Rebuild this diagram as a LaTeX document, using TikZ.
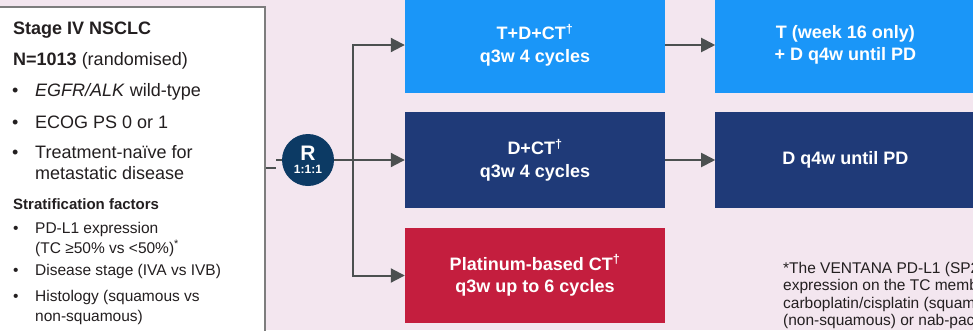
\documentclass[tikz,border=0pt]{standalone}
\usepackage{fontspec}
\setmainfont{Liberation Sans}
\usetikzlibrary{arrows.meta,positioning}

\definecolor{bgpink}{RGB}{243,230,239}
\definecolor{armblue}{RGB}{26,150,248}
\definecolor{armnavy}{RGB}{31,58,120}
\definecolor{armred}{RGB}{196,30,62}
\definecolor{randnavy}{RGB}{12,58,100}
\definecolor{linegray}{RGB}{75,80,80}
\definecolor{boxgray}{RGB}{125,125,125}
\definecolor{txtdark}{RGB}{35,31,32}

\begin{document}
\begin{tikzpicture}[
            x = 1pt, y = -1pt, % pixel grid, y pointing down
            > = {Triangle[length=14pt,width=14pt]}, % arrow head style
            conn/.style = {draw=linegray, line width=2pt},
            arm/.style = {rectangle, minimum width=260pt, minimum height=96pt,
                          inner sep=0pt, text=white, align=center,
                          font=\bfseries\fontsize{18}{22.5}\selectfont},
            txt/.style = {anchor=base west, inner sep=0pt, text=txtdark,
                          font=\fontsize{18}{21}\selectfont},
            sub/.style = {txt, font=\fontsize{15.5}{19}\selectfont}
        ]

	\useasboundingbox (0,0) rectangle (973,330);
	\clip (0,0) rectangle (973,330);
	\fill[bgpink] (0,0) rectangle (973,330);

	% population box
	\node[draw=boxgray, line width=2pt, fill=white, minimum width=268pt,
	      minimum height=334pt, inner sep=0pt] (popn) at (131,173.5) {};

	\node[txt, font=\bfseries\fontsize{18}{21}\selectfont] (stage) at (13,34.5) {Stage IV NSCLC};
	\node[txt] (ntot) at (13,65) {\textbf{N=1013} (randomised)};
	\node[txt] (d1) at (12,96) {•};
	\node[txt] (i1) at (35,96) {\textit{EGFR/ALK} wild-type};
	\node[txt] (d2) at (12,128) {•};
	\node[txt] (i2) at (35,128) {ECOG PS 0 or 1};
	\node[txt] (d3) at (12,158) {•};
	\node[txt] (i3) at (35,158) {Treatment-naïve for};
	\node[txt] (i3b) at (35,179) {metastatic disease};

	\node[txt, font=\bfseries\fontsize{15}{18}\selectfont] (strat) at (13,209.5) {Stratification factors};
	\node[sub] (e1) at (13,233) {•};
	\node[sub] (s1) at (35,233) {PD-L1 expression};
	\node[sub] (s1b) at (35,253) {(TC ≥50\% vs <50\%)\textsuperscript{*}};
	\node[sub] (e2) at (13,275) {•};
	\node[sub] (s2) at (35,275) {Disease stage (IVA vs IVB)};
	\node[sub] (e3) at (13,301) {•};
	\node[sub] (s3) at (35,301) {Histology (squamous vs};
	\node[sub] (s3b) at (35,321.5) {non-squamous)};

	% treatment arms
	\node[arm, fill=armblue] (tdct) at (535,45) {T+D+CT\textsuperscript{†}\\q3w 4 cycles};
	\node[arm, fill=armnavy] (dct) at (535,160) {D+CT\textsuperscript{†}\\q3w 4 cycles};
	\node[arm, fill=armred, minimum height=95pt] (ct) at (535,275.5) {Platinum-based CT\textsuperscript{†}\\q3w up to 6 cycles};

	\node[arm, fill=armblue] (tmaint) [right=50pt of tdct] {T (week 16 only)\\+ D q4w until PD};
	\node[arm, fill=armnavy] (dmaint) [right=50pt of dct] {D q4w until PD};

	% randomisation
	\node[circle, fill=randnavy, minimum size=52pt, inner sep=0pt, text=white,
	      align=center, font=\bfseries] (rand) at (308,160)
	      {{\fontsize{21}{21}\selectfont R}\\[1.5pt]{\fontsize{12}{12}\selectfont 1:1:1}};

	\coordinate (stub) at (276,168);
	\coordinate (lin) at (276,160);
	\coordinate (split) at (353,160);

	\draw[conn] (stub -| popn.east) -- (stub);
	\draw[conn] (lin) -- (rand);
	\draw[conn,->] (rand) -- (dct);
	\draw[conn,->] (split) |- (tdct);
	\draw[conn,->] (split) |- (ct);
	\draw[conn,->] (tdct) -- (tmaint);
	\draw[conn,->] (dct) -- (dmaint);

	% footnote
	\node[txt, font=\fontsize{15.5}{17.5}\selectfont, align=left] (fnote) at (783,325.5)
	      {*The VENTANA PD-L1 (SP263)\\expression on the TC membrane\\carboplatin/cisplatin (squamous)\\(non-squamous) or nab-paclitaxel};

\end{tikzpicture}
\end{document}
